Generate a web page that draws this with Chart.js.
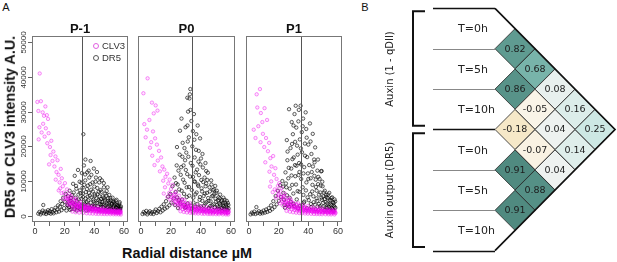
<!DOCTYPE html>
<html><head><meta charset="utf-8">
<script src="https://cdn.jsdelivr.net/npm/chart.js"></script>
<style>
html,body{margin:0;padding:0;background:#fff;width:617px;height:262px;overflow:hidden;position:relative}
canvas{position:absolute}
.t{position:absolute;white-space:nowrap;line-height:1;color:#111}
.a{font-family:'Liberation Sans',Arial,sans-serif}
.d{font-family:'DejaVu Sans',sans-serif}
.c{transform:translate(-50%,-50%)}
.l{transform:translateY(-50%)}
.r{transform:translate(-50%,-50%) rotate(-90deg)}
.dot{position:absolute;width:4px;height:4px;border-radius:50%;transform:translate(-50%,-50%)}
</style></head><body>
<canvas id="c0" width="132" height="206" style="left:0;top:30px"></canvas>
<canvas id="c1" width="104" height="206" style="left:134px;top:30px"></canvas>
<canvas id="c2" width="104" height="206" style="left:242px;top:30px"></canvas>
<canvas id="cb" width="237" height="262" style="left:380px;top:0"></canvas>

<div class="t a c" style="left:6px;top:7px;font-size:11px">A</div>
<div class="t a c" style="left:365px;top:7px;font-size:11px">B</div>
<div class="t a c" style="left:80px;top:27.5px;font-size:13px;font-weight:bold">P-1</div>
<div class="t a c" style="left:186.5px;top:27.5px;font-size:13px;font-weight:bold">P0</div>
<div class="t a c" style="left:294px;top:27.5px;font-size:13px;font-weight:bold">P1</div>
<div class="t a r" style="left:10px;top:127px;font-size:14.4px;font-weight:bold">DR5 or CLV3 intensity A.U.</div>
<div class="t a c" style="left:187px;top:253px;font-size:14.4px;font-weight:bold">Radial distance µM</div>
<span class="dot" style="left:96px;top:46px;border:1px solid #e060e0"></span>
<span class="dot" style="left:96px;top:58px;border:1px solid #555"></span>
<div class="t a l" style="left:102px;top:46px;font-size:9.5px;color:#333">CLV3</div>
<div class="t a l" style="left:102px;top:58px;font-size:9.5px;color:#333">DR5</div>
<div id="blabels"></div>

<script>
// ---------------- Panel A data ----------------
const panelNames = ['P-1', 'P0', 'P1'];
const seriesNames = ['CLV3', 'DR5'];
const vlineX = [31.8, 34.0, 35.2];
const xTickLabels = ['0', '20', '40', '60'];
const yTickLabels = ['0', '10000', '20000', '30000', '40000', '50000'];

const clv3Pm1 = [[3.2,41000],[1.6,32800],[2.3,30200],[4.0,33000],[5.2,29800],[6.1,28800],[7.0,31500],[8.0,29000],[8.8,27900],[3.0,25500],[4.5,24000],[5.5,26500],[6.5,22800],[7.3,25200],[8.3,20900],[9.2,23800],[10.1,19800],[2.5,22000],[11.0,21600],[10.5,17500],[11.8,15800],[12.4,18500],[13.1,14200],[9.5,14800],[13.8,17100],[14.5,12600],[15.2,16000],[14.0,10400],[15.9,11800],[16.6,9600],[17.4,13500],[17.0,7900],[18.1,10800],[18.8,8500],[19.5,6700],[20.2,9400],[20.9,5900],[21.6,7600],[22.3,5100],[23.0,6400],[23.7,4500],[24.4,5700],[25.1,3900],[25.8,5000],[26.5,3500],[27.2,4400],[27.9,3100],[28.6,3900],[29.3,2800],[30.0,3600],[30.7,2600],[31.4,3300],[32.1,2400],[32.8,3000],[33.5,2200],[34.2,2800],[34.9,2000],[35.6,2600],[36.3,1900],[37.0,2400],[37.7,1800],[38.4,2300],[39.1,1700],[39.8,2100],[40.5,1600],[41.2,2000],[41.9,1500],[42.6,1900],[43.3,1400],[44.0,1800],[44.7,1350],[45.4,1700],[46.1,1300],[46.8,1600],[47.5,1250],[48.2,1500],[48.9,1200],[49.6,1450],[50.3,1150],[51.0,1400],[51.7,1100],[52.4,1350],[53.1,1050],[53.8,1300],[54.5,1000],[55.2,1250],[55.9,950],[56.6,1200],[57.3,900],[57.8,1150],[22.0,3200],[24.0,2800],[26.0,2500],[28.0,2200],[30.0,1900],[21.0,4200],[19.0,4800],[23.5,3700],[25.5,2000],[27.5,1800],[29.5,1600],[31.5,1700],[33.5,1500],[35.5,1400],[37.5,1300],[39.5,1200],[41.5,1100],[43.5,1000],[45.5,950],[47.5,900],[49.5,850],[51.5,800],[53.5,780],[55.5,750],[57.5,700],[18.0,6500],[16.0,7300],
[22.6,4600],[23.2,3400],[24.1,4000],[24.7,3200],[25.4,3600],[26.3,2900],[26.8,3300],[27.6,2700],[28.3,3000],[29.0,2500],[29.7,2800],[30.4,2300],[31.1,2600],[31.8,2100],[32.5,2500],[33.2,2000],[33.9,2400],[34.6,1800],[35.3,2200],[36.0,1700],[36.7,2100],[37.3,1600],[38.0,2000],[38.7,1500],[39.4,1900],[40.1,1450],[40.8,1800],[41.5,1350],[42.2,1700],[42.9,1300],[43.6,1650],[44.3,1250],[45.0,1600],[45.7,1200],[46.4,1500],[47.1,1150],[47.8,1450],[48.5,1100],[49.2,1400],[49.9,1050],[50.6,1350],[51.3,1000],[52.0,1300],[52.7,980],[53.4,1250],[54.1,950],[54.8,1200],[55.5,920],[56.2,1150],[56.9,900],[57.6,1100],[20.5,5200],[21.8,4800],[23.8,5300],[26.0,4400],[28.5,3500],[30.8,3100],[33.0,2700],[35.0,2500],[37.8,2300],[40.5,2000],[43.0,1900],[45.2,1800],[48.0,1700],[50.5,1600],[53.0,1500],[55.8,1400],[57.2,1300],
[25.2,1200],[27.4,1000],[29.8,900],[32.4,800],[34.8,700],[36.9,650],[38.9,600],[41.0,560],[42.8,520],[44.9,500],[46.7,480],[48.6,450],[50.8,430],[52.9,410],[54.6,400],[56.4,380],[57.9,360],[36.1,3100],[39.2,2800],[42.3,2500],[45.8,2300],[49.1,2100],[52.2,1900],[55.1,1800],[57.7,1600],[31.0,4000],[27.8,4900]];
const dr5Pm1 = [[2.2,600],[3.0,1100],[3.8,400],[4.5,900],[5.2,1500],[5.6,3100],[6.0,700],[6.8,1200],[7.5,500],[8.1,1000],[8.8,1600],[9.4,800],[10.0,1300],[10.6,600],[11.2,1900],[11.9,1100],[12.5,700],[13.1,1500],[13.8,2300],[14.4,1000],[15.0,1800],[15.6,3000],[16.2,1200],[16.8,2600],[17.3,4200],[17.9,1600],[18.4,3400],[19.0,5200],[19.6,2200],[20.1,4000],[20.7,6300],[21.2,1500],[21.8,3100],[22.3,5600],[22.9,2500],[23.4,7200],[24.0,4300],[24.6,1900],[25.1,6000],[25.7,9200],[26.2,3400],[26.8,11500],[27.3,5200],[27.9,7800],[28.4,2600],[29.0,13200],[29.5,4700],[30.1,9800],[30.6,6500],[31.1,3000],[31.6,12300],[32.1,8100],[32.6,23500],[32.4,5400],[33.0,14500],[33.4,2200],[33.9,10200],[34.3,6800],[34.8,4000],[35.2,12500],[35.7,8700],[36.1,3000],[36.6,11000],[37.0,5800],[37.5,15800],[37.9,7500],[38.4,2800],[38.8,9600],[39.3,4700],[39.7,13600],[40.2,6200],[40.6,3600],[41.1,11000],[41.5,5000],[42.0,8000],[42.4,2600],[42.9,6900],[43.3,9600],[43.8,4200],[44.2,7400],[44.7,3100],[45.1,10200],[45.6,5600],[46.0,2400],[46.5,8200],[46.9,4400],[47.4,6400],[47.8,3000],[48.3,7100],[48.7,2200],[49.2,5000],[49.6,3700],[50.1,6000],[50.5,2600],[51.0,4400],[51.4,1800],[51.9,3500],[52.3,5200],[52.8,2300],[53.2,4000],[53.7,1700],[54.1,3200],[54.6,2500],[55.0,4600],[55.5,1500],[55.9,2900],[56.4,2100],[56.8,3500],[57.2,1600],[57.6,2400],[30.5,2000],[33.5,3500],[36.5,1800],[39.5,2500],[42.5,1900],[45.5,3300],[48.5,1600],[51.5,2800],[54.5,1300],[57.0,2000],[28.0,1500],[35.5,5500],[44.5,4800],[40.0,8400],[38.0,11800],[34.0,16200],
[22.1,2900],[22.8,4100],[23.6,1700],[24.3,5100],[25.0,2700],[25.4,3800],[26.1,6700],[26.6,1900],[27.2,3100],[27.7,8600],[28.2,4300],[28.8,2400],[29.3,6100],[29.8,3300],[30.3,7300],[30.9,1800],[31.3,4900],[31.9,2700],[32.3,6400],[32.9,3900],[33.2,8900],[33.7,2600],[34.1,5000],[34.6,1500],[35.0,7700],[35.4,3100],[35.9,4400],[36.4,6600],[36.8,2300],[37.2,9100],[37.7,3800],[38.1,5300],[38.6,1900],[39.0,7000],[39.5,4100],[39.9,2800],[40.4,5800],[40.8,9800],[41.3,2100],[41.7,3700],[42.2,6200],[42.7,4500],[43.1,1700],[43.6,5600],[44.0,3300],[44.5,2600],[44.9,6900],[45.3,4000],[45.8,1800],[46.3,5100],[46.7,3200],[47.2,4700],[47.6,2000],[48.1,5800],[48.5,3500],[49.0,2600],[49.4,4300],[49.9,1900],[50.3,3900],[50.8,5100],[51.2,2200],[51.7,3300],[52.1,1500],[52.6,4100],[53.0,2800],[53.5,3600],[53.9,1900],[54.4,4300],[54.8,2300],[55.3,3100],[55.7,2600],[56.2,1700],[56.6,2900],[57.1,3900],[57.5,2000],[57.9,2700],[36.2,13000],[41.8,12600],[43.8,10800],[31.3,9500],[33.8,11900],[46.4,9400],[48.9,8200]];

const clv3P0 = [[4.4,39600],[1.6,35300],[7.3,32600],[9.8,31800],[8.5,29500],[11.0,30300],[2.2,26400],[4.0,24800],[5.6,27600],[3.1,22600],[6.8,21200],[8.0,24300],[9.4,22300],[6.0,19600],[10.6,20500],[7.5,17300],[12.0,18700],[11.2,15900],[13.4,16800],[9.0,14600],[14.3,14200],[12.6,12800],[15.5,13300],[16.3,11200],[14.8,10100],[17.4,12100],[18.2,9300],[16.0,8200],[19.1,10400],[20.0,7700],[18.8,6600],[21.2,8900],[22.0,6100],[20.6,5300],[23.1,7000],[24.0,5000],[22.7,4200],[25.3,5800],[26.1,3900],[24.8,3400],[27.4,4700],[28.0,3100],[26.9,2600],[29.3,3700],[30.2,2400],[31.0,3200],[32.1,2100],[33.0,2800],[33.8,1800],[34.9,2500],[35.7,1600],[36.6,2200],[37.4,1500],[38.5,2000],[39.3,1400],[40.1,1900],[41.2,1300],[42.0,1750],[43.1,1200],[43.9,1650],[45.0,1150],[45.8,1550],[46.9,1100],[47.7,1450],[48.6,1050],[49.5,1400],[50.4,1000],[51.3,1350],[52.2,950],[53.0,1300],[54.1,900],[54.9,1250],[55.8,880],[56.7,1200],[57.6,850],[58.3,1100],[21.5,3600],[23.6,3000],[25.9,2200],[27.8,1900],[29.6,1700],[31.7,1500],[33.3,1300],[35.2,1200],[37.0,1100],[39.0,1000],[41.6,950],[44.0,900],[46.3,850],[48.1,800],[50.9,780],[53.5,750],[56.2,720],[58.0,700],[19.6,4600],[17.6,5400],[15.2,6400],
[22.4,5200],[23.5,4000],[24.3,4500],[25.0,3500],[25.7,3900],[26.5,3100],[27.1,3400],[27.9,2700],[28.6,3000],[29.3,2400],[30.0,2800],[30.7,2200],[31.4,2600],[32.2,2000],[32.8,2400],[33.6,1900],[34.3,2200],[35.0,1750],[35.8,2000],[36.4,1650],[37.2,1900],[37.9,1550],[38.7,1800],[39.5,1450],[40.2,1700],[40.9,1400],[41.7,1600],[42.4,1300],[43.3,1550],[44.1,1250],[44.8,1500],[45.6,1200],[46.3,1450],[47.1,1150],[47.9,1400],[48.8,1100],[49.7,1350],[50.6,1050],[51.5,1300],[52.4,1000],[53.3,1250],[54.2,980],[55.1,1200],[56.0,950],[56.9,1150],[57.8,920],[58.5,1050],[20.2,6000],[21.6,4900],[23.0,6200],[26.0,4600],[28.2,3900],[31.1,3400],[34.0,2900],[36.9,2500],[39.8,2200],[42.6,2000],[45.3,1900],[48.3,1800],[51.1,1700],[54.0,1600],[57.0,1500],
[26.3,1300],[28.5,1100],[30.6,950],[32.7,850],[34.6,750],[36.3,680],[38.2,620],[40.5,580],[42.2,540],[44.4,500],[46.1,480],[48.0,450],[50.1,430],[52.0,410],[54.5,390],[56.6,370],[58.2,350],[37.8,3000],[40.8,2700],[43.8,2500],[47.0,2300],[50.2,2100],[53.2,1950],[56.0,1800],[58.4,1600],[32.4,3700],[29.0,4600]];
const dr5P0 = [[1.0,500],[1.8,1100],[2.6,700],[3.5,1400],[4.2,400],[5.0,900],[5.9,1300],[6.6,600],[7.4,1000],[8.3,500],[9.0,1200],[9.8,1800],[10.5,800],[11.4,1300],[12.2,2000],[13.0,1000],[13.7,2600],[14.5,1500],[15.2,3300],[15.9,2000],[16.7,4200],[17.4,2400],[18.1,5500],[18.9,3000],[19.6,6300],[20.3,3800],[21.0,8500],[21.8,5000],[22.4,11000],[23.1,6800],[23.8,14500],[24.5,9000],[25.2,4500],[25.8,17600],[26.5,11800],[27.1,7200],[27.8,21000],[28.4,14500],[29.1,9500],[29.7,25500],[30.2,18200],[30.8,12000],[31.4,30000],[31.9,22600],[32.3,33800],[32.6,35000],[32.9,36500],[33.2,15200],[30.5,5400],[28.9,3200],[27.0,28000],[26.0,24500],[24.0,19800],[32.0,8300],[33.6,27300],[34.2,20000],[34.7,11200],[35.3,29300],[35.8,16800],[36.3,6200],[36.9,23500],[37.4,13300],[38.0,9000],[38.5,18700],[39.1,4600],[39.6,14800],[40.2,10300],[40.7,7000],[37.8,26000],[35.0,3800],[41.3,13900],[41.8,5700],[42.4,11000],[42.9,3500],[43.5,9300],[44.0,6600],[44.6,12400],[45.1,4300],[45.7,8200],[46.2,2800],[46.8,10200],[47.3,5600],[47.9,7400],[48.4,3300],[49.0,6300],[49.5,8600],[50.1,4100],[50.6,7200],[51.2,2600],[51.7,5300],[52.3,3600],[52.8,6100],[53.4,2100],[53.9,4500],[54.5,3000],[55.0,5200],[55.6,1900],[56.1,3800],[56.7,2700],[57.2,4300],[57.8,1600],[58.3,3100],[30.0,2500],[34.0,2000],[38.8,2300],[42.0,1800],[45.0,2100],[48.0,1600],[51.0,1900],[54.0,1400],[57.0,1700],[36.0,9800],[40.0,16500],[43.0,15200],[29.4,16000],[31.0,26000],[25.0,13000],
[22.6,3100],[23.3,9400],[24.1,5300],[24.7,2200],[25.5,7600],[26.2,3500],[26.8,14000],[27.4,4700],[28.1,10400],[28.7,6300],[29.3,2300],[29.9,13200],[30.5,8200],[31.1,3600],[31.6,17000],[32.2,5800],[32.7,11300],[33.3,2900],[33.9,7400],[34.4,14400],[34.9,5200],[35.5,9900],[36.0,2600],[36.5,12500],[37.1,6700],[37.6,3400],[38.2,8600],[38.7,11700],[39.3,5400],[39.8,2700],[40.4,7900],[40.9,4300],[41.5,9700],[42.0,2900],[42.6,6400],[43.1,8500],[43.7,3900],[44.2,10300],[44.8,5100],[45.3,2300],[45.9,7000],[46.4,4200],[47.0,9000],[47.5,3000],[48.1,5800],[48.6,7600],[49.2,2400],[49.7,4900],[50.3,6600],[50.8,3100],[51.4,4400],[51.9,2000],[52.5,5000],[53.0,3300],[53.6,4100],[54.1,2300],[54.7,3600],[55.2,2700],[55.8,4600],[56.3,1800],[56.9,3200],[57.4,2400],[57.9,3700],[58.4,2100],[29.0,19500],[31.2,21400],[34.6,24400],[36.7,19000],[38.3,15600],[41.0,17800],[33.0,30500],[30.9,34000],[35.6,21900],[27.6,17000],[39.4,22300],[43.5,12900]];

const clv3P1 = [[7.4,36500],[5.2,35000],[5.6,31200],[8.0,29600],[10.5,31000],[12.2,27600],[9.0,27000],[3.2,24800],[4.4,22400],[6.3,25800],[7.8,21200],[9.4,23600],[10.3,19800],[11.5,22400],[12.8,18600],[13.6,21000],[14.4,16600],[11.0,15400],[15.2,14200],[16.3,17200],[13.8,12700],[16.9,11800],[17.8,13700],[15.0,9900],[18.6,10600],[19.5,8600],[17.4,7600],[20.4,9400],[21.3,7000],[19.8,5900],[22.0,8000],[23.0,5600],[21.6,4700],[24.1,6400],[25.0,4500],[23.7,3800],[26.2,5100],[27.1,3600],[25.8,3000],[28.3,4200],[29.2,2900],[30.1,3700],[31.0,2500],[32.0,3300],[32.8,2200],[33.9,2900],[34.7,1900],[35.8,2600],[36.6,1700],[37.5,2300],[38.5,1600],[39.4,2100],[40.3,1500],[41.2,1900],[42.2,1400],[43.0,1800],[44.0,1300],[44.9,1700],[45.9,1250],[46.7,1600],[47.8,1200],[48.6,1500],[49.6,1150],[50.5,1450],[51.5,1100],[52.3,1400],[53.3,1050],[54.2,1350],[55.1,1000],[56.0,1300],[57.0,950],[57.8,1200],[20.8,3600],[22.7,3000],[24.6,2500],[26.7,2100],[28.8,1900],[30.6,1700],[32.4,1500],[34.3,1350],[36.2,1250],[38.0,1150],[40.0,1050],[42.7,1000],[45.3,950],[47.2,900],[49.9,850],[52.8,800],[55.6,760],[58.2,720],[18.2,5200],[16.0,6800],[14.2,8400],
[21.5,5500],[22.4,4200],[23.3,4900],[24.2,3600],[24.9,4000],[25.7,3200],[26.4,3600],[27.2,2800],[27.9,3100],[28.6,2500],[29.4,2900],[30.1,2300],[30.8,2600],[31.6,2100],[32.3,2400],[33.1,1900],[33.8,2200],[34.6,1750],[35.3,2000],[36.0,1650],[36.8,1900],[37.6,1550],[38.3,1800],[39.1,1450],[39.9,1700],[40.7,1400],[41.6,1600],[42.4,1300],[43.4,1550],[44.2,1250],[45.1,1500],[45.9,1200],[46.9,1450],[47.7,1150],[48.7,1400],[49.5,1100],[50.4,1350],[51.2,1050],[52.1,1300],[53.0,1000],[53.9,1250],[54.7,980],[55.6,1200],[56.5,950],[57.4,1150],[58.3,920],[20.0,6200],[19.0,7300],[23.8,5700],[26.6,4500],[29.0,3700],[31.9,3200],[34.9,2800],[37.9,2400],[41.0,2100],[44.0,1950],[47.2,1800],[50.0,1700],[53.4,1600],[56.4,1500],
[25.3,1400],[27.6,1150],[29.7,1000],[31.8,880],[33.9,780],[35.7,700],[37.8,640],[39.7,590],[41.9,550],[43.8,510],[45.6,490],[47.5,460],[49.3,440],[51.6,420],[53.6,400],[55.4,380],[57.6,360],[36.6,3100],[39.6,2800],[42.9,2500],[46.2,2300],[49.2,2150],[52.5,1950],[55.3,1800],[57.9,1650],[33.2,3600],[28.1,4800]];
const dr5P1 = [[1.1,400],[1.9,900],[2.8,600],[3.6,1200],[4.4,500],[5.0,2500],[5.8,800],[6.7,1300],[7.5,600],[8.3,1100],[9.1,700],[9.9,1500],[10.8,900],[11.6,1800],[12.4,1100],[13.3,2200],[14.1,1400],[14.9,3000],[15.7,1900],[16.4,4200],[17.2,2500],[18.0,5700],[18.7,3300],[19.5,7200],[20.2,4300],[21.0,8800],[21.7,5400],[22.5,10000],[23.2,6600],[23.9,3100],[24.6,12500],[25.2,8200],[25.9,16000],[26.5,10800],[27.0,30700],[27.4,5200],[28.0,19500],[28.5,13600],[29.1,8900],[29.6,23500],[30.2,16800],[30.7,29300],[31.2,11400],[31.5,31700],[31.9,25400],[32.4,20200],[32.8,7100],[33.3,27200],[33.8,15200],[34.3,22000],[34.8,31700],[35.2,10600],[35.7,18300],[36.2,25800],[36.7,6000],[37.2,14000],[37.7,20800],[38.2,29800],[38.7,9600],[39.2,16900],[39.7,12200],[40.3,4500],[41.1,26600],[41.6,10800],[42.1,17800],[42.6,7000],[43.1,14200],[43.6,3900],[44.1,11500],[44.6,19700],[45.1,8300],[45.6,5000],[46.1,13000],[46.6,9100],[47.1,3400],[47.6,10600],[48.1,6700],[48.6,12800],[49.1,4600],[49.6,8500],[50.1,5600],[50.6,2700],[51.1,7200],[51.6,4000],[52.1,6000],[52.6,2300],[53.1,5100],[53.6,3300],[54.1,6600],[54.6,2000],[55.1,4400],[55.6,3000],[56.1,5300],[56.6,1800],[57.1,3700],[57.6,2600],[58.1,4100],[27.0,2600],[30.0,3400],[33.0,2100],[36.0,3000],[39.0,2200],[42.0,2500],[45.0,1900],[48.0,2300],[51.0,1600],[54.0,1500],[57.0,1400],[25.5,21800],[34.0,12600],[37.0,3800],[40.0,20500],[43.0,23600],[28.8,27000],[32.0,14400],
[23.0,8400],[23.6,4600],[24.3,2300],[24.9,9300],[25.6,5900],[26.2,3200],[26.8,13800],[27.5,7800],[28.1,4000],[28.7,11600],[29.3,16300],[29.9,6400],[30.5,2800],[31.1,21300],[31.7,9000],[32.2,4700],[32.8,17600],[33.4,11700],[34.0,6900],[34.5,2900],[35.1,14800],[35.6,24100],[36.2,8200],[36.7,12200],[37.3,4100],[37.8,17300],[38.4,7300],[38.9,22500],[39.5,5300],[40.0,10600],[40.6,14600],[41.2,6200],[41.7,3400],[42.3,12600],[42.8,8900],[43.4,5600],[43.9,16200],[44.5,3200],[45.0,10400],[45.6,7200],[46.1,4300],[46.7,11200],[47.2,6100],[47.8,2800],[48.3,8700],[48.9,5200],[49.4,9800],[50.0,3700],[50.5,6700],[51.1,4800],[51.6,2400],[52.2,5400],[52.7,3600],[53.3,6100],[53.8,2500],[54.4,4600],[54.9,3300],[55.5,5100],[56.0,2200],[56.6,3900],[57.1,2900],[57.7,4700],[58.2,2300],[26.0,18500],[30.0,26000],[33.6,30500],[36.5,28000],[38.6,25000],[41.5,21400],[44.2,15400],[29.0,20700],[35.0,19400],[31.0,14600],[46.5,16200],[49.0,12900]];

// ---------------- Panel B data ----------------
const rowLabels = ['T=0h', 'T=5h', 'T=10h', 'T=0h', 'T=5h', 'T=10h'];
const groupLabels = ['Auxin (1 - qDII)', 'Auxin output (DR5)'];
// corrLower[j-1][i] = correlation between row i and row j (i < j)
const corrLower = [
  [0.82],
  [0.68, 0.86],
  [0.08, -0.05, -0.18],
  [0.16, 0.04, -0.07, 0.91],
  [0.25, 0.14, 0.04, 0.88, 0.91]
];

// ---------------- helpers ----------------
const toXY = arr => arr.map(p => ({x: p[0], y: p[1]}));
const fontA = "'Liberation Sans', Arial, sans-serif";

const rPlugin = {
  id: 'rbox',
  afterDatasetsDraw(chart, args, opts) {
    const {ctx, chartArea: a, scales: {x, y}} = chart;
    ctx.save();
    ctx.strokeStyle = '#555'; ctx.lineWidth = 1;
    const xx = Math.round(x.getPixelForValue(opts.vx)) + 0.5;
    ctx.beginPath(); ctx.moveTo(xx, a.top); ctx.lineTo(xx, a.bottom); ctx.stroke();
    ctx.strokeStyle = '#777';
    ctx.strokeRect(a.left + 0.5, a.top + 0.5, a.right - a.left - 1, a.bottom - a.top - 1);
    if (opts.showY) {
      ctx.strokeStyle = '#666';
      ctx.fillStyle = '#333';
      ctx.font = "8px 'Liberation Sans'";
      ctx.textAlign = 'center'; ctx.textBaseline = 'middle';
      yTickLabels.forEach(lab => {
        const yy = Math.round(y.getPixelForValue(Number(lab))) + 0.5;
        ctx.beginPath(); ctx.moveTo(a.left - 4, yy); ctx.lineTo(a.left, yy); ctx.stroke();
        ctx.save(); ctx.translate(a.left - 8, yy); ctx.rotate(-Math.PI / 2);
        ctx.fillText(lab, 0, 0); ctx.restore();
      });
    }
    ctx.restore();
  }
};

function makeScatter(id, idx, clv, dr, showY, padL, padR) {
  const gridOpt = {display: true, drawOnChartArea: false, drawTicks: true, tickLength: 4, color: '#666'};
  return new Chart(document.getElementById(id), {
    type: 'scatter',
    data: {datasets: [
      {label: seriesNames[0], data: toXY(clv), pointRadius: 1.7, borderWidth: 1,
       borderColor: 'rgba(235,0,235,0.42)', backgroundColor: 'rgba(255,0,255,0.1)'},
      {label: seriesNames[1], data: toXY(dr), pointRadius: 1.7, borderWidth: 1,
       borderColor: 'rgba(0,0,0,0.62)', backgroundColor: 'rgba(0,0,0,0.04)'}
    ]},
    options: {
      animation: false, responsive: false, events: [], devicePixelRatio: 1,
      layout: {autoPadding: false, padding: {top: 6, right: padR, left: padL, bottom: 0}},
      plugins: {legend: {display: false}, tooltip: {enabled: false}, rbox: {vx: vlineX[idx], showY: showY}},
      scales: {
        x: {type: 'linear', min: -2, max: 62.7,
            afterFit: s => { s.height = 14; },
            border: {display: false}, grid: gridOpt,
            ticks: {stepSize: 10, includeBounds: false, autoSkip: false, maxRotation: 0, padding: 0,
                    color: '#333', font: {family: fontA, size: 9},
                    callback: v => xTickLabels.includes(String(v)) ? String(v) : ''}},
        y: {type: 'linear', display: false, min: -1800, max: 51800}
      }
    },
    plugins: [rPlugin]
  });
}

makeScatter('c0', 0, clv3Pm1, dr5Pm1, true, 32, 4);
makeScatter('c1', 1, clv3P0, dr5P0, false, 4, 3);
makeScatter('c2', 2, clv3P1, dr5P1, false, 4, 4);

// ---------------- Panel B ----------------
function lerp(a, b, t) { return a + (b - a) * t; }
function cellColor(v) {
  const pos = [[0,[243,244,241]],[0.08,[232,240,238]],[0.16,[220,237,234]],[0.25,[205,232,228]],[0.68,[120,180,170]],[0.82,[95,155,145]],[0.91,[80,138,128]],[1,[65,122,112]]];
  const neg = [[0,[243,244,241]],[0.05,[249,244,232]],[0.18,[246,232,200]],[1,[190,140,60]]];
  const stops = v >= 0 ? pos : neg;
  const a = Math.abs(v);
  for (let k = 1; k < stops.length; k++) {
    if (a <= stops[k][0]) {
      const t = (a - stops[k-1][0]) / (stops[k][0] - stops[k-1][0]);
      const c = stops[k-1][1].map((c0, n) => Math.round(lerp(c0, stops[k][1][n], t)));
      return 'rgb(' + c.join(',') + ')';
    }
  }
  return 'rgb(' + stops[stops.length-1][1].join(',') + ')';
}

const cells = [];
corrLower.forEach((row, jm) => {
  const j = jm + 1;
  row.forEach((v, i) => cells.push({x: j - i, y: (i + j) / 2, v: v}));
});

const bPlugin = {
  id: 'bdeco',
  afterDatasetsDraw(chart) {
    const {ctx, scales: {x, y}} = chart;
    const px = v => x.getPixelForValue(v), py = v => y.getPixelForValue(v);
    ctx.save();
    for (let k = 0; k <= rowLabels.length; k++) {
      const thick = (k % 3 === 0);
      const yy = Math.round(py(k - 0.5)) + 0.5;
      ctx.strokeStyle = thick ? '#111' : '#888';
      ctx.lineWidth = thick ? 1.7 : 1;
      ctx.beginPath(); ctx.moveTo(px(-3.1), yy); ctx.lineTo(px(0), yy); ctx.stroke();
    }
    ctx.strokeStyle = '#111'; ctx.lineWidth = 1.7;
    ctx.beginPath();
    ctx.moveTo(px(0), py(-0.5)); ctx.lineTo(px(6), py(2.5)); ctx.lineTo(px(0), py(5.5));
    ctx.stroke();
    ctx.lineWidth = 2;
    [[-0.43, 2.41], [2.59, 5.41]].forEach(b => {
      ctx.beginPath();
      ctx.moveTo(px(-3.5), py(b[0])); ctx.lineTo(px(-4.1), py(b[0]));
      ctx.lineTo(px(-4.1), py(b[1])); ctx.lineTo(px(-3.5), py(b[1]));
      ctx.stroke();
    });
    const meta = chart.getDatasetMeta(0);
    ctx.fillStyle = '#1c1c1c';
    ctx.font = "9.5px 'DejaVu Sans'";
    ctx.textAlign = 'center'; ctx.textBaseline = 'middle';
    meta.data.forEach((el, k) => ctx.fillText(cells[k].v.toFixed(2), el.x, el.y + 0.5));
    ctx.restore();
  }
};

const chartB = new Chart(document.getElementById('cb'), {
  type: 'scatter',
  data: {datasets: [{
    data: cells,
    pointStyle: 'rectRot',
    pointRadius: c => { const s = c.chart.scales.x; return s.getPixelForValue(1) - s.getPixelForValue(0); },
    backgroundColor: c => cellColor(c.raw.v),
    borderColor: '#222', borderWidth: 0.8
  }]},
  options: {
    animation: false, responsive: false, events: [], devicePixelRatio: 1,
    layout: {autoPadding: false, padding: 0},
    plugins: {legend: {display: false}, tooltip: {enabled: false}},
    scales: {
      x: {type: 'linear', display: false, min: -5.75, max: 6.1},
      y: {type: 'linear', display: false, reverse: true, min: -0.7054, max: 5.7797}
    }
  },
  plugins: [bPlugin]
});

(function () {
  const host = document.getElementById('blabels');
  const ys = chartB.scales.y, xs = chartB.scales.x;
  const offX = 380;
  rowLabels.forEach((lab, i) => {
    const d = document.createElement('div');
    d.className = 't d l';
    d.style.cssText = 'left:' + (offX + xs.getPixelForValue(-1.85)) + 'px;top:' + ys.getPixelForValue(i) + 'px;font-size:11px;color:#222';
    d.textContent = lab;
    host.appendChild(d);
  });
  groupLabels.forEach((lab, g) => {
    const d = document.createElement('div');
    d.className = 't d r';
    d.style.cssText = 'left:390px;top:' + ys.getPixelForValue(g * 3 + 1) + 'px;font-size:10px;color:#222';
    d.textContent = lab;
    host.appendChild(d);
  });
})();
</script>
</body></html>
